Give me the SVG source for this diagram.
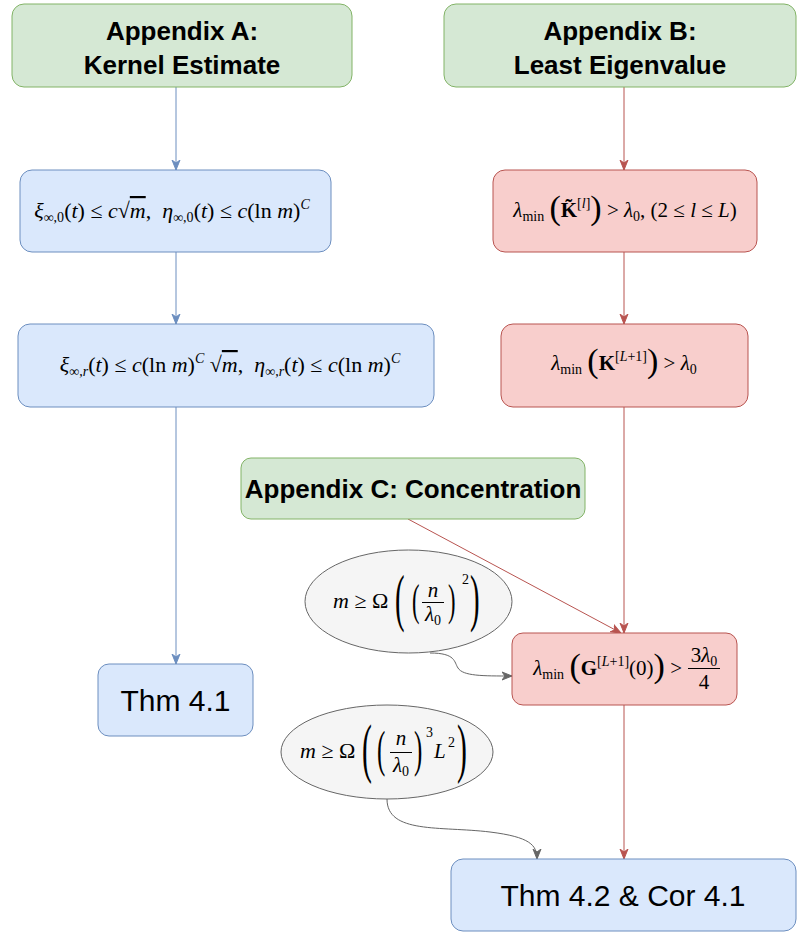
<svg xmlns="http://www.w3.org/2000/svg" width="797" height="934" viewBox="0 0 797 934">
<defs>
<style>
.g{fill:#d5e8d4;stroke:#82b366;stroke-width:1}
.b{fill:#dae8fc;stroke:#6c8ebf;stroke-width:1}
.r{fill:#f8cecc;stroke:#b85450;stroke-width:1}
.e{fill:#f5f5f5;stroke:#666666;stroke-width:1}
.hd{font-family:"Liberation Sans",Arial,sans-serif;font-weight:bold;font-size:26px;fill:#000;text-anchor:middle}
.tx{font-family:"Liberation Sans",Arial,sans-serif;font-size:30px;fill:#000;text-anchor:middle}
.mt{font-family:"Liberation Serif","DejaVu Serif",serif;font-size:21px;fill:#000}
.m2{font-size:22px}
.it{font-style:italic}
.sb{font-size:14px}
.bd{font-weight:bold}
.bp{font-size:34px}
.cb{stroke:#6c8ebf;stroke-width:1;fill:none}
.cr{stroke:#b85450;stroke-width:1;fill:none}
.cg{stroke:#666666;stroke-width:1;fill:none}
</style>
<marker id="ab" viewBox="0 0 10 10" refX="10" refY="5" markerWidth="10" markerHeight="10" markerUnits="userSpaceOnUse" orient="auto"><path d="M0,1 L10,5 L0,9 L3,5 Z" fill="#6c8ebf" stroke="#6c8ebf"/></marker>
<marker id="ar" viewBox="0 0 10 10" refX="10" refY="5" markerWidth="10" markerHeight="10" markerUnits="userSpaceOnUse" orient="auto"><path d="M0,1 L10,5 L0,9 L3,5 Z" fill="#b85450" stroke="#b85450"/></marker>
<marker id="ag" viewBox="0 0 10 10" refX="10" refY="5" markerWidth="10" markerHeight="10" markerUnits="userSpaceOnUse" orient="auto"><path d="M0,1 L10,5 L0,9 L3,5 Z" fill="#666666" stroke="#666666"/></marker>
</defs>
<rect width="797" height="934" fill="#ffffff"/>

<g id="connectors">
<line class="cb" x1="176" y1="87" x2="176" y2="170" marker-end="url(#ab)"/>
<line class="cb" x1="176" y1="252" x2="176" y2="324" marker-end="url(#ab)"/>
<line class="cb" x1="176" y1="407" x2="176" y2="664" marker-end="url(#ab)"/>
<line class="cr" x1="624" y1="87" x2="624" y2="170" marker-end="url(#ar)"/>
<line class="cr" x1="624" y1="252" x2="624" y2="324" marker-end="url(#ar)"/>
<line class="cr" x1="624" y1="407" x2="624" y2="633" marker-end="url(#ar)"/>
<line class="cr" x1="408" y1="519" x2="621" y2="633" marker-end="url(#ar)"/>
<line class="cr" x1="624" y1="705" x2="624" y2="859" marker-end="url(#ar)"/>
<path class="cg" d="M430,653 C456,653 454,662 458,668 C463,676 482,676 512,676" marker-end="url(#ag)"/>
<path class="cg" d="M387,799 C387,834 440,826 490,832 C530,837 537,845 537,859" marker-end="url(#ag)"/>
</g>

<g id="appendixA">
<rect class="g" x="12" y="4" width="340" height="83" rx="12"/>
<text class="hd" x="182" y="40">Appendix A:</text>
<text class="hd" x="182" y="74">Kernel Estimate</text>
</g>

<g id="appendixB">
<rect class="g" x="444" y="4" width="352" height="83" rx="12"/>
<text class="hd" x="620" y="40">Appendix B:</text>
<text class="hd" x="620" y="74">Least Eigenvalue</text>
</g>

<g id="appendixC">
<rect class="g" x="241" y="458" width="344" height="61" rx="10"/>
<text class="hd" x="413" y="498">Appendix C: Concentration</text>
</g>

<g id="kernel0">
<rect class="b" x="20" y="170" width="311" height="82" rx="12"/>
<text class="mt m2" x="172" y="218" text-anchor="middle"><tspan class="it">ξ</tspan><tspan class="sb" dy="4">∞,0</tspan><tspan dy="-4">(</tspan><tspan class="it">t</tspan><tspan>) ≤ </tspan><tspan class="it">c</tspan><tspan>√</tspan><tspan class="it" style="text-decoration:overline">m</tspan><tspan>,&#160; </tspan><tspan class="it">η</tspan><tspan class="sb" dy="4">∞,0</tspan><tspan dy="-4">(</tspan><tspan class="it">t</tspan><tspan>) ≤ </tspan><tspan class="it">c</tspan><tspan>(ln </tspan><tspan class="it">m</tspan><tspan>)</tspan><tspan class="sb it" dy="-9">C</tspan></text>
</g>

<g id="kernelr">
<rect class="b" x="18" y="324" width="416" height="83" rx="12"/>
<text class="mt m2" x="230" y="372" text-anchor="middle"><tspan class="it">ξ</tspan><tspan class="sb" dy="4">∞,</tspan><tspan class="sb it">r</tspan><tspan dy="-4">(</tspan><tspan class="it">t</tspan><tspan>) ≤ </tspan><tspan class="it">c</tspan><tspan>(ln </tspan><tspan class="it">m</tspan><tspan>)</tspan><tspan class="sb it" dy="-9">C</tspan><tspan dy="9">&#160;√</tspan><tspan class="it" style="text-decoration:overline">m</tspan><tspan>,&#160; </tspan><tspan class="it">η</tspan><tspan class="sb" dy="4">∞,</tspan><tspan class="sb it">r</tspan><tspan dy="-4">(</tspan><tspan class="it">t</tspan><tspan>) ≤ </tspan><tspan class="it">c</tspan><tspan>(ln </tspan><tspan class="it">m</tspan><tspan>)</tspan><tspan class="sb it" dy="-9">C</tspan></text>
</g>

<g id="thm41">
<rect class="b" x="98" y="664" width="155" height="72" rx="11"/>
<text class="tx" x="175.5" y="711">Thm 4.1</text>
</g>

<g id="eigK">
<rect class="r" x="493" y="170" width="264" height="82" rx="12"/>
<text class="mt" x="625" y="217" text-anchor="middle"><tspan class="it">λ</tspan><tspan class="sb" dy="4">min</tspan><tspan dy="-4">&#160;</tspan><tspan class="bp" dy="2">(</tspan><tspan class="bd" dy="-2">K&#x303;</tspan><tspan class="sb" dy="-9">[</tspan><tspan class="sb it">l</tspan><tspan class="sb">]</tspan><tspan class="bp" dy="11">)</tspan><tspan dy="-2"> &gt; </tspan><tspan class="it">λ</tspan><tspan class="sb" dy="4">0</tspan><tspan dy="-4">, (2 ≤ </tspan><tspan class="it">l</tspan><tspan> ≤ </tspan><tspan class="it">L</tspan><tspan>)</tspan></text>
</g>

<g id="eigKL">
<rect class="r" x="501" y="324" width="247" height="83" rx="12"/>
<text class="mt" x="624" y="370" text-anchor="middle"><tspan class="it">λ</tspan><tspan class="sb" dy="4">min</tspan><tspan dy="-4">&#160;</tspan><tspan class="bp" dy="2">(</tspan><tspan class="bd" dy="-2">K</tspan><tspan class="sb" dy="-9">[</tspan><tspan class="sb it">L</tspan><tspan class="sb">+1]</tspan><tspan class="bp" dy="11">)</tspan><tspan dy="-2"> &gt; </tspan><tspan class="it">λ</tspan><tspan class="sb" dy="4">0</tspan></text>
</g>

<g id="eigG">
<rect class="r" x="512" y="633" width="225" height="72" rx="11"/>
<text class="mt" x="682" y="675" text-anchor="end"><tspan class="it">λ</tspan><tspan class="sb" dy="4">min</tspan><tspan dy="-4">&#160;</tspan><tspan class="bp" dy="2">(</tspan><tspan class="bd" dy="-2">G</tspan><tspan class="sb" dy="-9">[</tspan><tspan class="sb it">L</tspan><tspan class="sb">+1]</tspan><tspan dy="9">(0)</tspan><tspan class="bp" dy="2">)</tspan><tspan dy="-2"> &gt;</tspan></text>
<text class="mt" x="704" y="662" text-anchor="middle">3<tspan class="it">λ</tspan><tspan class="sb" dy="4">0</tspan></text>
<line x1="688" y1="668.5" x2="720" y2="668.5" stroke="#000" stroke-width="1"/>
<text class="mt" x="704" y="689" text-anchor="middle">4</text>
</g>

<g id="cond1">
<ellipse class="e" cx="408.5" cy="601.5" rx="103.5" ry="51.5"/>
<text class="mt m2" x="333" y="608"><tspan class="it">m</tspan><tspan> ≥ Ω</tspan></text>
<text class="mt" transform="translate(395,619) scale(0.45,1)" style="font-size:64px">(</text>
<text class="mt" transform="translate(412,615) scale(0.5,1)" style="font-size:45px">(</text>
<text class="mt it" x="433" y="597" text-anchor="middle">n</text>
<line x1="422" y1="602.5" x2="444" y2="602.5" stroke="#000" stroke-width="1"/>
<text class="mt" x="433" y="621" text-anchor="middle"><tspan class="it">λ</tspan><tspan class="sb" dy="4">0</tspan></text>
<text class="mt" transform="translate(448,615) scale(0.5,1)" style="font-size:45px">)</text>
<text class="mt sb" x="462" y="584">2</text>
<text class="mt" transform="translate(470,619) scale(0.45,1)" style="font-size:64px">)</text>
</g>

<g id="cond2">
<ellipse class="e" cx="387" cy="752" rx="106" ry="47"/>
<text class="mt m2" x="300" y="758"><tspan class="it">m</tspan><tspan> ≥ Ω</tspan></text>
<text class="mt" transform="translate(362,770) scale(0.45,1)" style="font-size:66px">(</text>
<text class="mt" transform="translate(377,766) scale(0.5,1)" style="font-size:50px">(</text>
<text class="mt it" x="401" y="745" text-anchor="middle">n</text>
<line x1="390" y1="752.5" x2="412" y2="752.5" stroke="#000" stroke-width="1"/>
<text class="mt" x="401" y="772" text-anchor="middle"><tspan class="it">λ</tspan><tspan class="sb" dy="4">0</tspan></text>
<text class="mt" transform="translate(414,766) scale(0.5,1)" style="font-size:50px">)</text>
<text class="mt sb" x="426" y="737">3</text>
<text class="mt it" x="434" y="758">L</text>
<text class="mt sb" x="448" y="747">2</text>
<text class="mt" transform="translate(457,770) scale(0.45,1)" style="font-size:66px">)</text>
</g>

<g id="thm42">
<rect class="b" x="451" y="859" width="345" height="72" rx="12"/>
<text class="tx" x="623" y="906">Thm 4.2 &amp; Cor 4.1</text>
</g>
</svg>
